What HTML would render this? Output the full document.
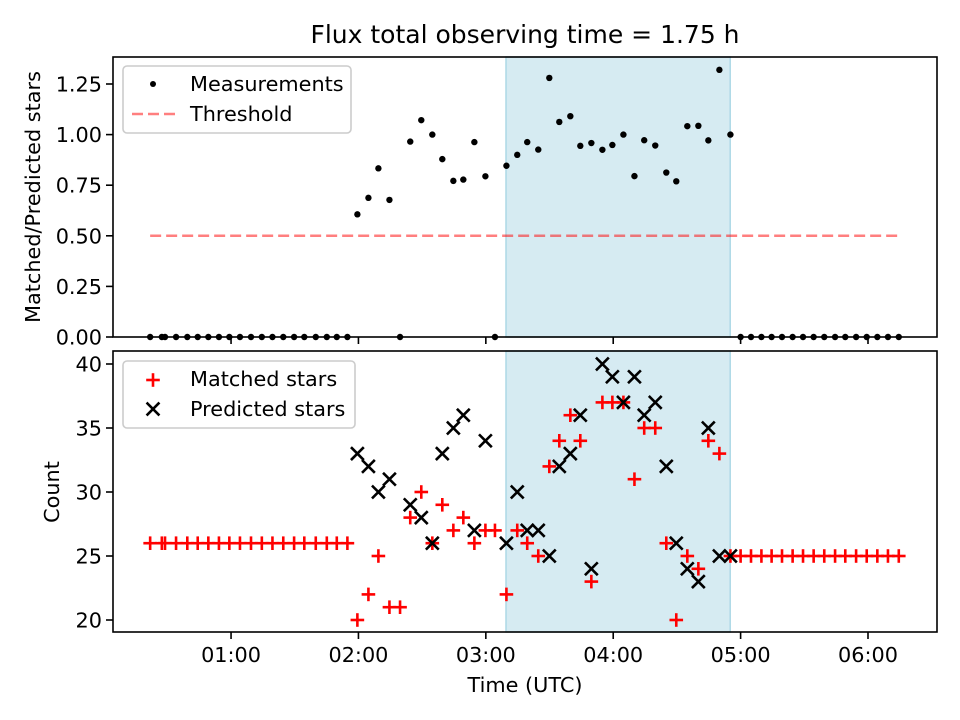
<!DOCTYPE html>
<html><head><meta charset="utf-8"><style>
html,body{margin:0;padding:0;background:#fff}
svg{display:block}
text{font-family:"DejaVu Sans","Liberation Sans",sans-serif;fill:#000}
</style></head><body>
<svg id="chart" width="960" height="720" viewBox="0 0 960 720" xmlns="http://www.w3.org/2000/svg"></svg>
<script>
// Data: times in minutes after 00:00 UTC
const times = [21.9,27.4,28.9,34.1,39.4,44.3,49.3,54.3,59.2,64.2,69.4,74.5,79.5,84.6,89.7,94.5,99.9,105.1,109.8,114.8,
119.5,124.7,129.4,134.6,139.6,144.4,149.6,154.8,159.5,164.7,169.4,174.6,179.8,184.3,189.7,194.8,199.5,204.7,209.9,214.6,219.8,224.5,229.7,234.9,239.6,244.8,250,254.6,259.8,265,269.7,274.9,280.1,284.8,290,295.2,
300,304.9,309.8,314.6,319.5,324.5,329.4,334.4,339.4,344.5,349.3,354.4,359.4,364.4,369.4,374.5];
const matched = [26,26,26,26,26,26,26,26,26,26,26,26,26,26,26,26,26,26,26,26,
20,22,25,21,21,28,30,26,29,27,28,26,27,27,22,27,26,25,32,34,36,34,23,37,37,37,31,35,35,26,20,25,24,34,33,25,
25,25,25,25,25,25,25,25,25,25,25,25,25,25,25,25];
const predicted = [null,null,null,null,null,null,null,null,null,null,null,null,null,null,null,null,null,null,null,null,
33,32,30,31,null,29,28,26,33,35,36,27,34,null,26,30,27,27,25,32,33,36,24,40,39,37,39,36,37,32,26,24,23,35,25,25,
null,null,null,null,null,null,null,null,null,null,null,null,null,null,null,null];
const threshold = 0.5;
const windowStart = 189.5, windowEnd = 295.1;
const xTickValues = [60,120,180,240,300,360];
const xTickLabels = ["01:00","02:00","03:00","04:00","05:00","06:00"];
const topTicks = [0,0.25,0.5,0.75,1.0,1.25];
const topTickLabels = ["0.00","0.25","0.50","0.75","1.00","1.25"];
const botTicks = [20,25,30,35,40];
const botTickLabels = ["20","25","30","35","40"];

const NS = "http://www.w3.org/2000/svg";
const svg = document.getElementById("chart");
function mk(tag, attrs, parent){ const e=document.createElementNS(NS,tag); for(const k in attrs) e.setAttribute(k,attrs[k]); (parent||svg).appendChild(e); return e; }

const L=113, R=937;
const X = t => L + (t-4.4)/(392.5-4.4)*(R-L);
const topY = v => 337 - v*202.4;
const botY = v => 620 - (v-20)*12.8;
const T1=57,B1=337,T2=351,B2=632;
const FS = 20.8;

let s1 = mk("rect",{x:X(windowStart),y:T1,width:X(windowEnd)-X(windowStart),height:B1-T1,fill:"#add8e6","fill-opacity":0.5,stroke:"#add8e6","stroke-width":1.5});


let s2 = mk("rect",{x:X(windowStart),y:T2,width:X(windowEnd)-X(windowStart),height:B2-T2,fill:"#add8e6","fill-opacity":0.5,stroke:"#add8e6","stroke-width":1.5});



let th = mk("line",{x1:X(times[0]),x2:X(times[times.length-1]),y1:topY(threshold),y2:topY(threshold),stroke:"#ff0000","stroke-opacity":0.5,"stroke-width":2.5,"stroke-dasharray":"11,5"});



times.forEach((t,i)=>{
  const r = predicted[i] ? matched[i]/predicted[i] : 0;
  const c = mk("circle",{cx:X(t),cy:topY(r),r:3.2,fill:"#000"});
  
  
});

function plus(x,y,col,parent){ const g=mk("g",{stroke:col,"stroke-width":2.6,"stroke-linecap":"square"},parent); mk("line",{x1:x-5.5,x2:x+5.5,y1:y,y2:y},g); mk("line",{x1:x,x2:x,y1:y-5.5,y2:y+5.5},g); return g; }
function cross(x,y,col,parent){ const g=mk("g",{stroke:col,"stroke-width":2.6,"stroke-linecap":"square"},parent); mk("line",{x1:x-5.5,x2:x+5.5,y1:y-5.5,y2:y+5.5},g); mk("line",{x1:x-5.5,x2:x+5.5,y1:y+5.5,y2:y-5.5},g); return g; }
times.forEach((t,i)=>{
  const p = plus(X(t),botY(matched[i]),"#ff0000");
  
  
});
times.forEach((t,i)=>{
  if(predicted[i]==null) return;
  const c = cross(X(t),botY(predicted[i]),"#000");
  
  
});

let f1 = mk("rect",{x:L,y:T1,width:R-L,height:B1-T1,fill:"none",stroke:"#000","stroke-width":1.6});


let f2 = mk("rect",{x:L,y:T2,width:R-L,height:B2-T2,fill:"none",stroke:"#000","stroke-width":1.6});



xTickValues.forEach((v,i)=>{
  mk("line",{x1:X(v),x2:X(v),y1:B1,y2:B1+7,stroke:"#000","stroke-width":1.6});
  mk("line",{x1:X(v),x2:X(v),y1:B2,y2:B2+7,stroke:"#000","stroke-width":1.6});
  const tx = mk("text",{x:X(v),y:B2+30,"text-anchor":"middle","font-size":FS});
  tx.textContent = xTickLabels[i];
  
  
});
topTicks.forEach((v,i)=>{
  mk("line",{x1:L-7,x2:L,y1:topY(v),y2:topY(v),stroke:"#000","stroke-width":1.6});
  const tx = mk("text",{x:L-11,y:topY(v)+7.5,"text-anchor":"end","font-size":FS});
  tx.textContent = topTickLabels[i];
  
  
});
botTicks.forEach((v,i)=>{
  mk("line",{x1:L-7,x2:L,y1:botY(v),y2:botY(v),stroke:"#000","stroke-width":1.6});
  const tx = mk("text",{x:L-11,y:botY(v)+7.5,"text-anchor":"end","font-size":FS});
  tx.textContent = botTickLabels[i];
  
  
});

let ttl = mk("text",{x:525,y:43,"text-anchor":"middle","font-size":25});
ttl.textContent = "Flux total observing time = 1.75 h";


let yl1 = mk("text",{x:0,y:0,"text-anchor":"middle","font-size":FS,transform:"translate(40,197) rotate(-90)"});
yl1.textContent = "Matched/Predicted stars";


let yl2 = mk("text",{x:0,y:0,"text-anchor":"middle","font-size":FS,transform:"translate(59,492) rotate(-90)"});
yl2.textContent = "Count";


let xl = mk("text",{x:525,y:692,"text-anchor":"middle","font-size":FS});
xl.textContent = "Time (UTC)";



let lg1 = mk("g",{});


mk("rect",{x:123,y:66,width:228,height:67,rx:4,fill:"#fff","fill-opacity":0.8,stroke:"#ccc","stroke-width":1.6},lg1);
mk("circle",{cx:153,cy:84,r:3,fill:"#000"},lg1);
let t1 = mk("text",{x:190,y:91,"font-size":FS},lg1); t1.textContent="Measurements";
mk("line",{x1:132,x2:175,y1:114,y2:114,stroke:"#ff0000","stroke-opacity":0.5,"stroke-width":2.5,"stroke-dasharray":"11,5"},lg1);
let t2 = mk("text",{x:190,y:121,"font-size":FS},lg1); t2.textContent="Threshold";

let lg2 = mk("g",{});


mk("rect",{x:123,y:361,width:232,height:67,rx:4,fill:"#fff","fill-opacity":0.8,stroke:"#ccc","stroke-width":1.6},lg2);
plus(153,380,"#ff0000",lg2);
cross(153,409,"#000",lg2);
let t3 = mk("text",{x:190,y:386,"font-size":FS},lg2); t3.textContent="Matched stars";
let t4 = mk("text",{x:190,y:416,"font-size":FS},lg2); t4.textContent="Predicted stars";
</script>
</body></html>
